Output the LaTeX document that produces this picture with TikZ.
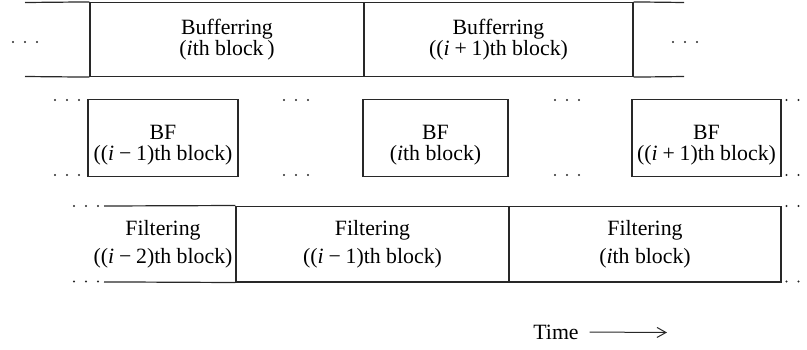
\documentclass[tikz,border=0pt]{standalone}
\usepackage{fontspec}
\setmainfont{Liberation Serif}
\usetikzlibrary{positioning, arrows.meta}
\definecolor{lncol}{RGB}{40,40,40}
\tikzset{
    slotbox/.style={rectangle, draw=lncol, line width=0.6pt, align=center, inner sep=0pt, font=\fontsize{10.9}{10.6}\selectfont},
    bufbox/.style={slotbox, minimum height=37pt},
    bfbox/.style={slotbox, minimum height=38.7pt},
    filbox/.style={slotbox, minimum height=37.9pt, font=\fontsize{10.9}{13.8}\selectfont},
    openline/.style={draw=lncol, line width=0.6pt},
    dotc/.style={fill=lncol},
    timearr/.style={-{Straight Barb[length=4.5pt, width=5pt]}, line width=0.5pt, color=lncol, shorten <=2pt}
}
\newcommand{\tridots}[1]{\foreach \k in {-12,0,12} {\fill[dotc] (#1) ++(\k,0) circle (0.55pt);}}
\newcommand{\ith}{\textit{i}}
\newcommand{\bfup}{\rule{0pt}{14pt}}

\begin{document}
\begin{tikzpicture}[x=0.5pt, y=-0.5pt]
    \useasboundingbox (0,0) rectangle (807,349);
    % buffering row
    \node[bufbox, minimum width=137pt] at (227, 39.5) (b1) {Bufferring\\(\ith th block\,)};
    \node[bufbox, minimum width=134.5pt] at (498.5, 39.5) (b2) {Bufferring\\((\ith\:+\:1)th block)};
    \coordinate (bl1) at (25, 2.5);
    \coordinate (bl2) at (25, 76.5);
    \coordinate (br1) at (684, 2.5);
    \coordinate (br2) at (684, 76.5);
    \draw[openline] (b1.north west) -- (bl1);
    \draw[openline] (b1.south west) -- (bl2);
    \draw[openline] (b2.north east) -- (br1);
    \draw[openline] (b2.south east) -- (br2);
    \tridots{25,42}
    \tridots{685,42}
    % BF row
    \node[bfbox, minimum width=75pt] at (163, 138) (f1) {\bfup BF\\((\ith\:−\:1)th block)};
    \node[bfbox, minimum width=72.5pt] at (435.5, 138) (f2) {\bfup BF\\(\ith th block)};
    \node[bfbox, minimum width=74.5pt] at (706.5, 138) (f3) {\bfup BF\\((\ith\:+\:1)th block)};
    \foreach \xx in {67, 296, 567, 798.5} {
        \tridots{\xx,100}
        \tridots{\xx,175}
    }
    % filtering row
    \node[filbox, draw=none] at (163, 244) (g1) {Filtering\\((\ith\:−\:2)th block)};
    \node[filbox, minimum width=136.5pt] at (372.5, 244) (g2) {Filtering\\((\ith\:−\:1)th block)};
    \node[filbox, minimum width=136pt] at (645, 244) (g3) {Filtering\\(\ith th block)};
    \coordinate (gl1) at (104, 206);
    \coordinate (gl2) at (104, 281.9);
    \draw[openline] (gl1) -- (g2.north west);
    \draw[openline] (gl2) -- (g2.south west);
    \tridots{86,206}
    \tridots{86,281.5}
    \tridots{798.5,206}
    \tridots{798.5,281.5}
    % time axis
    \node[font=\fontsize{10.9}{12}\selectfont] at (556, 332) (time) {Time};
    \coordinate (tend) at (667, 332.5);
    \draw[timearr] (time.east) -- (tend);
\end{tikzpicture}
\end{document}
